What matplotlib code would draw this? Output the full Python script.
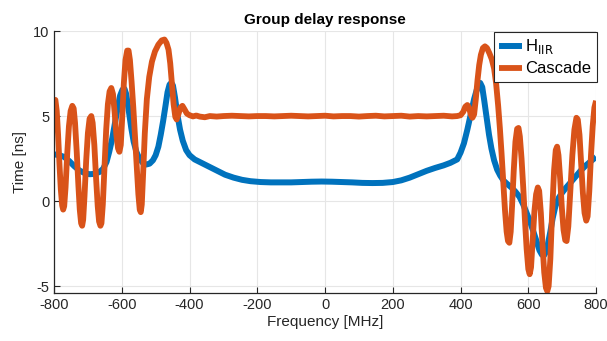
import matplotlib
matplotlib.use('Agg')
import matplotlib.pyplot as plt

plt.rcParams['font.family'] = ['Liberation Sans', 'DejaVu Sans']
plt.rcParams['axes.unicode_minus'] = False

# H_IIR group delay
freq_iir = [-800, -785, -770, -755, -740, -725, -710, -695, -680, -665, -655, -645,
            -637, -628, -620, -612, -605, -598, -592, -587, -580, -572, -565, -557,
            -548, -538, -528, -518, -508, -500, -492, -485, -478, -471, -465, -459,
            -454, -449, -443, -436, -428, -420, -410, -400, -385, -365, -345, -320,
            -295, -270, -245, -220, -190, -160, -130, -100, -70, -40, -10, 20, 50,
            80, 110, 140, 170, 200, 225, 250, 275, 300, 325, 350, 370, 390, 400,
            410, 420, 430, 440, 450, 458, 464, 470, 477, 484, 491, 499, 508, 517,
            527, 538, 550, 562, 574, 585, 595, 605, 615, 625, 633, 640, 646, 652,
            658, 665, 672, 680, 690, 700, 712, 725, 740, 755, 770, 785, 800]
delay_iir = [2.75, 2.7, 2.6, 2.35, 2.05, 1.8, 1.65, 1.58, 1.6, 1.72, 1.9, 2.3,
             2.9, 3.7, 4.6, 5.5, 6.2, 6.55, 6.6, 6.3, 5.4, 4.3, 3.5, 2.9,
             2.5, 2.25, 2.15, 2.2, 2.4, 2.7, 3.2, 3.9, 4.7, 5.6, 6.4, 6.85,
             6.95, 6.8, 6.1, 5.1, 4.2, 3.55, 3.0, 2.7, 2.45, 2.25, 2.05, 1.8,
             1.55, 1.38, 1.25, 1.17, 1.12, 1.1, 1.1, 1.1, 1.12, 1.14, 1.15, 1.14, 1.12,
             1.1, 1.07, 1.06, 1.07, 1.12, 1.22, 1.38, 1.58, 1.78, 1.95, 2.1, 2.25, 2.45, 2.85,
             3.4, 4.2, 5.1, 6.0, 6.7, 6.95, 6.7, 5.9, 4.9, 3.9, 3.1, 2.4, 1.85, 1.5,
             1.2, 1.0, 0.8, 0.55, 0.25, -0.2, -0.7, -1.2, -1.8, -2.4, -2.9, -3.15, -3.2, -3.0,
             -2.5, -1.8, -1.0, -0.3, 0.2, 0.5, 0.8, 1.1, 1.45, 1.8, 2.1, 2.35, 2.6]

# Cascade group delay
freq_cas = [-800, -796, -792, -788, -784, -780, -776, -773, -770, -766, -761, -756,
            -751, -746, -742, -738, -733, -728, -724, -720, -717, -714, -710, -705,
            -700, -695, -690, -686, -681, -676, -671, -667, -663, -660, -656, -651,
            -646, -641, -636, -631, -626, -621, -616, -611, -607, -603, -599, -594,
            -589, -584, -580, -576, -571, -566, -561, -556, -551, -547, -544, -541,
            -537, -532, -526, -519, -511, -502, -492, -482, -474, -468, -462, -457,
            -452, -447, -442, -438, -433, -427, -421, -415, -408, -400, -390, -380,
            -370, -355, -340, -320, -300, -275, -250, -225, -200, -175, -150, -125,
            -100, -75, -50, -25, 0, 25, 50, 75, 100, 125, 150, 175, 200, 225, 250,
            275, 300, 325, 350, 375, 390, 400, 408, 414, 420, 425, 430, 435, 440,
            445, 450, 455, 460, 466, 472, 478, 485, 492, 499, 505, 511, 516, 521,
            526, 531, 536, 540, 544, 548, 552, 557, 562, 567, 571, 575, 580, 585,
            590, 595, 600, 604, 608, 613, 618, 623, 628, 632, 637, 642, 647, 652,
            656, 660, 665, 670, 676, 681, 685, 689, 694, 699, 704, 709, 713, 718,
            724, 730, 736, 742, 746, 751, 756, 761, 766, 771, 775, 780, 785, 790,
            795, 800]
delay_cas = [5.9, 5.95, 5.3, 3.9, 2.2, 0.7, -0.25, -0.5, -0.3, 0.8, 2.8, 4.4,
             5.3, 5.6, 5.45, 4.6, 2.9, 0.9, -0.5, -1.3, -1.45, -1.1, 0.3, 2.4,
             4.0, 4.85, 5.0, 4.6, 3.3, 1.4, -0.3, -1.2, -1.45, -1.3, -0.2, 2.0,
             4.2, 5.7, 6.45, 6.65, 6.3, 5.2, 3.9, 3.1, 2.9, 3.3, 4.8, 6.9,
             8.3, 8.85, 8.85, 8.3, 7.0, 5.5, 3.8, 2.0, 0.4, -0.5, -0.65, -0.2,
             1.6, 4.0, 6.0, 7.3, 8.2, 8.8, 9.2, 9.45, 9.5, 9.3, 8.9, 8.1,
             6.9, 5.7, 4.95, 4.8, 5.1, 5.5, 5.6, 5.4, 5.15, 5.05, 4.98, 5.03,
             4.97, 4.93, 5.0, 4.97, 5.0, 5.02, 5.0, 4.98, 5.0, 5.0, 4.98, 5.0,
             5.02, 5.0, 4.98, 5.0, 5.02, 4.98, 5.0, 5.0, 4.97, 5.0, 5.02, 4.98, 5.0, 5.02, 4.97,
             5.0, 4.98, 5.0, 5.02, 4.98, 5.0, 5.05, 5.25, 5.55, 5.65, 5.5, 5.1, 4.9, 5.1,
             6.0, 7.1, 8.0, 8.6, 9.0, 9.1, 9.0, 8.7, 8.35, 7.8, 6.9, 5.6, 4.3, 2.8,
             1.1, -0.5, -1.8, -2.35, -2.45, -1.8, -0.3, 1.8, 3.5, 4.25, 4.3, 3.8, 2.5, 0.8,
             -1.1, -2.8, -4.0, -4.3, -3.9, -2.3, -0.6, 0.4, 0.8, 0.6, -0.7, -2.6, -4.2, -5.1,
             -5.3, -5.0, -3.4, -0.8, 1.8, 3.0, 3.2, 2.7, 1.3, -0.4, -1.7, -2.3, -2.35, -1.5,
             0.6, 2.7, 4.2, 4.9, 4.8, 3.9, 2.2, 0.5, -0.7, -1.15, -0.9, 0.6, 2.7, 4.4,
             5.5, 5.9]

x_ticks = [-800, -600, -400, -200, 0, 200, 400, 600, 800]
y_ticks = [-5, 0, 5, 10]

fig = plt.figure(figsize=(6.07, 3.41), dpi=100)
ax = fig.add_axes([0.089, 0.141, 0.893, 0.768])

ax.plot(freq_iir, delay_iir, color='#0072BD', lw=4.3, label='H$_{\\mathrm{IIR}}$',
        solid_joinstyle='round', solid_capstyle='butt')
ax.plot(freq_cas, delay_cas, color='#D95319', lw=4.2, label='Cascade',
        solid_joinstyle='round', solid_capstyle='butt')

ax.set_xlim(-800, 800)
ax.set_ylim(-5.4, 10)
ax.set_xticks(x_ticks)
ax.set_yticks(y_ticks)
ax.tick_params(direction='in', length=4, labelsize=10.5, colors='#262626', width=0.8)
ax.grid(True, color='#e6e6e6', lw=0.8)
ax.set_axisbelow(True)
for s in ['top', 'right']:
    ax.spines[s].set_visible(False)
for s in ['left', 'bottom']:
    ax.spines[s].set_color('#262626')
    ax.spines[s].set_linewidth(0.9)

ax.set_xlabel('Frequency [MHz]', fontsize=11, color='#262626', labelpad=2)
ax.set_ylabel('Time [ns]', fontsize=11, color='#262626', labelpad=4)
ax.set_title('Group delay response', fontsize=11, fontweight='bold', pad=5)

leg = ax.legend(loc='upper right', bbox_to_anchor=(1.002, 0.998), borderaxespad=0,
                fontsize=12, frameon=True, fancybox=False, handlelength=1.35,
                handletextpad=0.2, borderpad=0.35, labelspacing=0.3)
leg.get_frame().set_edgecolor('#262626')
leg.get_frame().set_linewidth(0.8)
leg.get_frame().set_alpha(1)

fig.savefig('out.png', dpi=100)
